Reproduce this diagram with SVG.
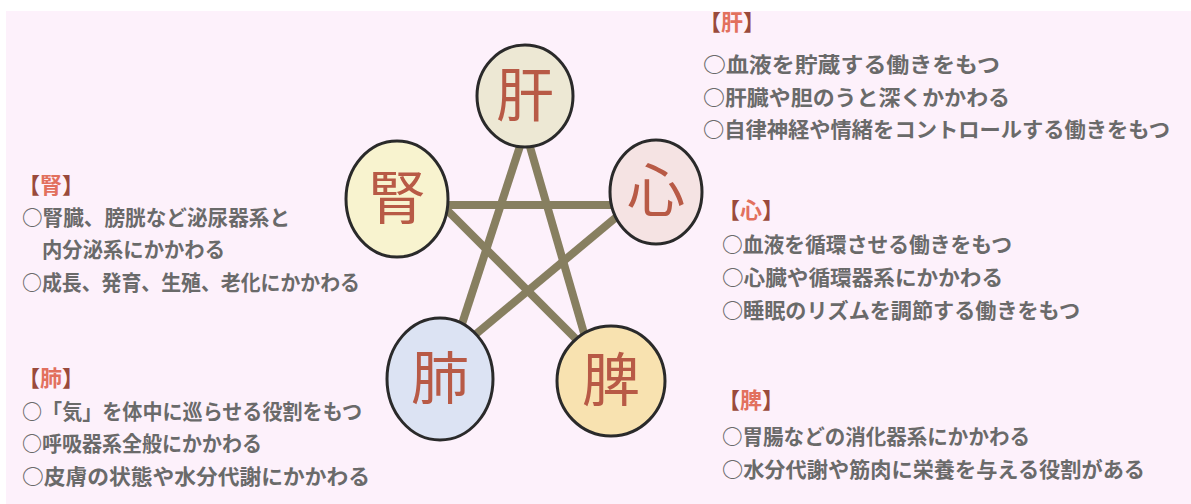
<svg xmlns="http://www.w3.org/2000/svg" width="1191" height="504" viewBox="0 0 1191 504">
<style>
.t{font-family:"Noto Sans CJK JP","Noto Sans CJK SC",sans-serif;font-size:21px;font-weight:bold;fill:#6a6a6a;}
.h{font-family:"Noto Sans CJK JP","Noto Sans CJK SC",sans-serif;font-size:22px;font-weight:bold;fill:#9a4a3c;}
.hc{fill:#e2705e;}
.k{font-family:"Noto Sans CJK JP","Noto Sans CJK SC",sans-serif;font-size:58px;fill:#b85a46;text-anchor:middle;}
.c{stroke:#2a2a2a;stroke-width:3;}
.e{stroke:#877f60;stroke-width:8;stroke-linecap:butt;fill:none;}
</style>
<rect x="0" y="0" width="1191" height="504" fill="#ffffff"/>
<rect x="6" y="11" width="1185" height="493" fill="#fdf1fb"/>
<g id="connectors">
<line class="e" x1="522" y1="140" x2="460" y2="330"/>
<line class="e" x1="528" y1="140" x2="586" y2="340"/>
<line class="e" x1="440" y1="205" x2="618" y2="205"/>
<line class="e" x1="440" y1="203" x2="580" y2="343"/>
<line class="e" x1="620" y1="214" x2="470" y2="339"/>
</g>
<g id="node-kan">
<ellipse class="c" cx="525" cy="96" rx="48" ry="51" fill="#ede8d4"/>
<text class="k" x="525" y="116">肝</text>
</g>
<g id="node-jin">
<ellipse class="c" cx="397" cy="199" rx="51" ry="58" fill="#f8f3cf"/>
<text class="k" x="397" y="219">腎</text>
</g>
<g id="node-shin">
<ellipse class="c" cx="656" cy="192" rx="46" ry="52" fill="#f5e3e3"/>
<text class="k" x="656" y="212">心</text>
</g>
<g id="node-hai">
<ellipse class="c" cx="440" cy="379" rx="53" ry="61" fill="#dce3f3"/>
<text class="k" x="440" y="399">肺</text>
</g>
<g id="node-hi">
<ellipse class="c" cx="611" cy="381" rx="54" ry="55" fill="#f8e2b0"/>
<text class="k" x="611" y="401">脾</text>
</g>
<g id="text-jin">
<text class="h" x="18" y="193">【<tspan class="hc">腎</tspan>】</text>
<text class="t" x="22" y="225" textLength="268" lengthAdjust="spacingAndGlyphs">○腎臓、膀胱など泌尿器系と</text>
<text class="t" x="42" y="257" textLength="183" lengthAdjust="spacingAndGlyphs">内分泌系にかかわる</text>
<text class="t" x="22" y="290" textLength="338" lengthAdjust="spacingAndGlyphs">○成長、発育、生殖、老化にかかわる</text>
</g>
<g id="text-hai">
<text class="h" x="18" y="386">【<tspan class="hc">肺</tspan>】</text>
<text class="t" x="22" y="419" textLength="340" lengthAdjust="spacingAndGlyphs">○「気」を体中に巡らせる役割をもつ</text>
<text class="t" x="22" y="451" textLength="240" lengthAdjust="spacingAndGlyphs">○呼吸器系全般にかかわる</text>
<text class="t" x="22" y="484" textLength="348" lengthAdjust="spacingAndGlyphs">○皮膚の状態や水分代謝にかかわる</text>
</g>
<g id="text-kan">
<text class="h" x="699" y="30">【<tspan class="hc">肝</tspan>】</text>
<text class="t" x="703" y="72" textLength="297" lengthAdjust="spacingAndGlyphs">○血液を貯蔵する働きをもつ</text>
<text class="t" x="703" y="105" textLength="307" lengthAdjust="spacingAndGlyphs">○肝臓や胆のうと深くかかわる</text>
<text class="t" x="703" y="137" textLength="467" lengthAdjust="spacingAndGlyphs">○自律神経や情緒をコントロールする働きをもつ</text>
</g>
<g id="text-shin">
<text class="h" x="718" y="218">【<tspan class="hc">心</tspan>】</text>
<text class="t" x="722" y="252" textLength="290" lengthAdjust="spacingAndGlyphs">○血液を循環させる働きをもつ</text>
<text class="t" x="722" y="285" textLength="281" lengthAdjust="spacingAndGlyphs">○心臓や循環器系にかかわる</text>
<text class="t" x="722" y="318" textLength="358" lengthAdjust="spacingAndGlyphs">○睡眠のリズムを調節する働きをもつ</text>
</g>
<g id="text-hi">
<text class="h" x="718" y="408">【<tspan class="hc">脾</tspan>】</text>
<text class="t" x="722" y="444" textLength="308" lengthAdjust="spacingAndGlyphs">○胃腸などの消化器系にかかわる</text>
<text class="t" x="722" y="477" textLength="423" lengthAdjust="spacingAndGlyphs">○水分代謝や筋肉に栄養を与える役割がある</text>
</g>
</svg>
